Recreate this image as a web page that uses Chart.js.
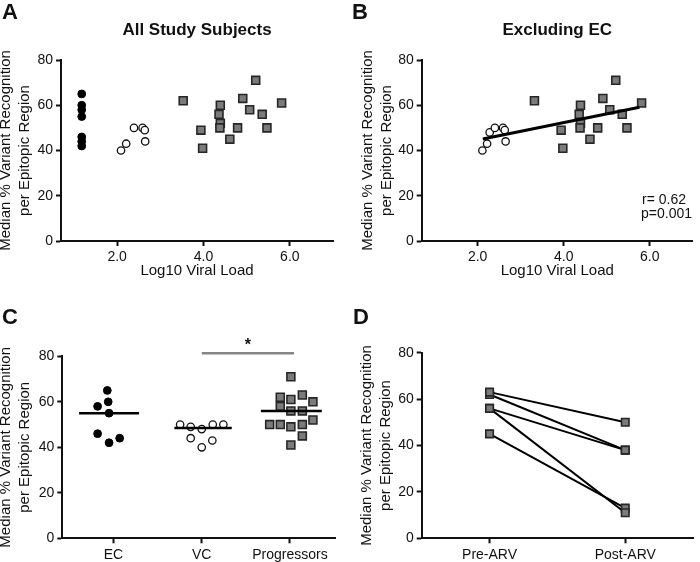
<!DOCTYPE html>
<html><head><meta charset="utf-8">
<script src="https://cdn.jsdelivr.net/npm/chart.js@4/dist/chart.umd.min.js"></script>
<style>
body{margin:0;background:#fff;width:700px;height:562px;position:relative;overflow:hidden;font-family:"Liberation Sans",Arial,sans-serif}
.q{position:absolute}
.lbl{position:absolute;font-weight:bold;font-size:22px;line-height:22px;color:#111}
</style></head><body>
<div class="q" style="left:0;top:0"><canvas id="cA" width="350" height="281"></canvas></div>
<div class="q" style="left:350px;top:0"><canvas id="cB" width="350" height="281"></canvas></div>
<div class="q" style="left:0;top:280px"><canvas id="cC" width="350" height="282"></canvas></div>
<div class="q" style="left:350px;top:280px"><canvas id="cD" width="350" height="282"></canvas></div>
<div class="lbl" style="left:2px;top:1px">A</div>
<div class="lbl" style="left:352px;top:1px">B</div>
<div class="lbl" style="left:2px;top:306px">C</div>
<div class="lbl" style="left:353px;top:306px">D</div>
<script>
// ---------- data ----------
// Panel A (x = log10 viral load, y = median % variant recognition)
const ecXA = [1.18, 1.18, 1.18, 1.18, 1.18, 1.18, 1.18];
const ecYA = [65, 60, 58, 55, 46, 44, 42];
const vcXA = [2.09, 2.21, 2.39, 2.59, 2.64, 2.65];
const vcYA = [40, 43, 50, 50, 49, 44];
const progX = [3.53, 3.94, 3.98, 4.39, 4.36, 4.39, 4.38, 4.61, 4.79, 4.91, 5.07, 5.21, 5.36, 5.47, 5.81];
const progY = [62, 49, 41, 60, 56, 52, 50, 45, 50, 63, 58, 71, 56, 50, 61];
// Panel B
const vcXB = [2.11, 2.22, 2.28, 2.40, 2.59, 2.63, 2.65];
const vcYB = [40, 43, 48, 50, 50, 49, 44];
const progXB = [3.32, 3.94, 3.98, 4.39, 4.36, 4.39, 4.38, 4.61, 4.79, 4.91, 5.07, 5.21, 5.36, 5.47, 5.81];
const regX = [2.12, 5.76];
const regY = [45.1, 59.1];
const statText = ['r= 0.62', 'p=0.001'];
const xTicksVL = [2, 4, 6];
const yTicks = [0, 20, 40, 60, 80];
// Panel C (group scatter)
const groups = ['EC', 'VC', 'Progressors'];
const ecXC = [0.93, 0.94, 0.82, 0.95, 0.82, 1.07, 0.95];
const ecYC = [65, 60, 58, 55, 46, 44, 42];
const vcXC = [1.755, 1.875, 2.0, 2.125, 2.245, 1.875, 2.0, 2.12];
const vcYC = [50, 49, 48, 50, 50, 44, 40, 43];
const progXC = [3.01, 2.89, 3.01, 3.14, 2.89, 3.01, 3.14, 3.26, 2.77, 2.89, 3.01, 3.14, 3.26, 3.14, 3.01];
const progYC = [71, 62, 61, 63, 58, 56, 56, 60, 50, 50, 49, 50, 52, 45, 41];
const medians = [55, 48.5, 56];
const medStart = [0.61, 1.69, 2.67];
const medEnd = [1.29, 2.34, 3.36];
const sigX = [2.0, 3.045];
const sigY = 81.3;
const sigMark = '*';
// Panel D (paired pre/post)
const timepoints = ['Pre-ARV', 'Post-ARV'];
const preARV = [63, 62, 56, 56, 45];
const postARV = [50, 38, 38, 11, 13];

// ---------- styling ----------
const FF = "'Liberation Sans', Arial, sans-serif";
Chart.defaults.font.family = FF;
Chart.defaults.color = '#111';
Chart.defaults.animation = false;
Chart.defaults.events = [];
Chart.defaults.plugins.legend.display = false;
Chart.defaults.plugins.tooltip.enabled = false;

const SQ_FILL = '#7b7b7b', SQ_BORDER = '#262626';
const zip = (xs, ys) => xs.map((x, i) => ({x, y: ys[i]}));

function yAxis(w, padTop) {
  return {
    type: 'linear', min: 0, max: 80,
    afterFit: s => { s.width = w; },
    afterBuildTicks: s => { s.ticks = yTicks.map(v => ({value: v})); },
    ticks: {padding: 3, color: '#111', font: {size: 14}},
    grid: {drawOnChartArea: false, drawTicks: true, tickLength: 5, tickWidth: 2, tickColor: '#111'},
    border: {display: true, width: 2, color: '#111'},
    title: {display: true, text: ['Median % Variant Recognition', 'per Epitopic Region'],
      font: {size: 15, lineHeight: 1.22}, padding: {top: padTop, bottom: 0}, color: '#111'}
  };
}
function xAxisVL(h) {
  return {
    type: 'linear', min: 0.7, max: 7.0,
    afterFit: s => { s.height = h; },
    afterBuildTicks: s => { s.ticks = xTicksVL.map(v => ({value: v})); },
    ticks: {padding: 3, color: '#111', font: {size: 14}, maxRotation: 0, callback: v => Number(v).toFixed(1)},
    grid: {drawOnChartArea: false, drawTicks: true, tickLength: 5, tickWidth: 2, tickColor: '#111'},
    border: {display: true, width: 2, color: '#111'},
    title: {display: true, text: 'Log10 Viral Load', font: {size: 15}, padding: {top: 0, bottom: 1}, color: '#111'}
  };
}
function titleOpt(t) {
  return {display: true, text: t, fullSize: false, font: {size: 17, weight: 'bold', lineHeight: 1.2},
    padding: {top: 19.8, bottom: 19.8}, color: '#111'};
}
const ecStyle = {pointStyle: 'circle', pointRadius: 3.9, pointBackgroundColor: '#000', pointBorderColor: '#000', pointBorderWidth: 1};
const vcStyle = {pointStyle: 'circle', pointRadius: 3.7, pointBackgroundColor: '#fff', pointBorderColor: '#111', pointBorderWidth: 1.3};
const sqStyle = {pointStyle: 'rect', pointRadius: 5.6, pointBackgroundColor: SQ_FILL, pointBorderColor: SQ_BORDER, pointBorderWidth: 1.6};

// ---------- Panel A ----------
new Chart(document.getElementById('cA'), {
  type: 'scatter',
  data: {datasets: [
    Object.assign({label: 'EC', data: zip(ecXA, ecYA)}, ecStyle),
    Object.assign({label: 'VC', data: zip(vcXA, vcYA)}, vcStyle),
    Object.assign({label: 'Progressors', data: zip(progX, progY)}, sqStyle)
  ]},
  options: {
    responsive: false, devicePixelRatio: 1,
    layout: {padding: {left: 0, top: 0, right: 17, bottom: 0}},
    plugins: {title: titleOpt('All Study Subjects')},
    scales: {x: xAxisVL(40), y: yAxis(61, -3)}
  }
});

// ---------- Panel B ----------
const statPlugin = {
  id: 'stat',
  afterDraw(chart) {
    const ctx = chart.ctx;
    ctx.save();
    ctx.fillStyle = '#111';
    ctx.font = '14px ' + FF;
    ctx.textAlign = 'left';
    ctx.textBaseline = 'middle';
    ctx.fillText(statText[0], 292, 200);
    ctx.fillText(statText[1], 291, 214);
    ctx.restore();
  }
};
new Chart(document.getElementById('cB'), {
  type: 'scatter',
  data: {datasets: [
    {label: 'fit', type: 'line', data: zip(regX, regY), showLine: true, borderColor: '#000', borderWidth: 3,
      pointRadius: 0, fill: false},
    Object.assign({label: 'VC', data: zip(vcXB, vcYB)}, vcStyle),
    Object.assign({label: 'Progressors', data: zip(progXB, progY)}, sqStyle)
  ]},
  options: {
    responsive: false, devicePixelRatio: 1,
    layout: {padding: {left: 0, top: 0, right: 7, bottom: 0}},
    plugins: {title: titleOpt('Excluding EC')},
    scales: {x: xAxisVL(40), y: yAxis(71.7, 9)}
  },
  plugins: [statPlugin]
});

// ---------- Panel C ----------
const starPlugin = {
  id: 'star',
  afterDraw(chart) {
    const {ctx, scales: {x, y}} = chart;
    ctx.save();
    ctx.fillStyle = '#111';
    ctx.font = 'bold 16px ' + FF;
    ctx.textAlign = 'center';
    ctx.textBaseline = 'middle';
    ctx.fillText(sigMark, x.getPixelForValue((sigX[0] + sigX[1]) / 2), y.getPixelForValue(sigY) - 8);
    ctx.restore();
  }
};
const medianSets = medians.map((m, i) => ({
  label: 'median ' + groups[i], type: 'line',
  data: [{x: medStart[i], y: m}, {x: medEnd[i], y: m}],
  showLine: true, borderColor: '#000', borderWidth: 2.5, pointRadius: 0, fill: false
}));
new Chart(document.getElementById('cC'), {
  type: 'scatter',
  data: {datasets: [
    ...medianSets,
    {label: 'sig', type: 'line', data: sigX.map(x => ({x, y: sigY})), showLine: true, borderColor: '#858585',
      borderWidth: 2.5, pointRadius: 0, fill: false, clip: false},
    Object.assign({label: 'EC', data: zip(ecXC, ecYC)}, ecStyle),
    Object.assign({label: 'VC', data: zip(vcXC, vcYC)}, vcStyle),
    Object.assign({label: 'Progressors', data: zip(progXC, progYC)}, sqStyle)
  ]},
  options: {
    responsive: false, devicePixelRatio: 1,
    layout: {padding: {left: 0, top: 76.3, right: 15, bottom: 0}},
    scales: {
      x: {
        type: 'linear', min: 0.42, max: 3.51,
        afterFit: s => { s.height = 23.7; },
        afterBuildTicks: s => { s.ticks = groups.map((g, i) => ({value: i + 1})); },
        ticks: {padding: 3, color: '#111', font: {size: 14}, maxRotation: 0, callback: v => groups[Math.round(v) - 1]},
        grid: {drawOnChartArea: false, drawTicks: true, tickLength: 5, tickWidth: 2, tickColor: '#111'},
        border: {display: true, width: 2, color: '#111'}
      },
      y: yAxis(62.3, -3)
    }
  },
  plugins: [starPlugin]
});

// ---------- Panel D ----------
new Chart(document.getElementById('cD'), {
  type: 'line',
  data: {
    labels: timepoints,
    datasets: preARV.map((p, i) => ({
      label: 'subject ' + (i + 1), data: [p, postARV[i]],
      borderColor: '#000', borderWidth: 2, fill: false, tension: 0,
      pointStyle: 'rect', pointRadius: 5.3, pointBackgroundColor: SQ_FILL, pointBorderColor: SQ_BORDER, pointBorderWidth: 1.6
    }))
  },
  options: {
    responsive: false, devicePixelRatio: 1,
    layout: {padding: {left: 0, top: 72.7, right: 1, bottom: 0}},
    scales: {
      x: {
        type: 'category', offset: true,
        afterFit: s => { s.height = 23.7; },
        ticks: {padding: 3, color: '#111', font: {size: 14}, maxRotation: 0},
        grid: {offset: false, drawOnChartArea: false, drawTicks: true, tickLength: 5, tickWidth: 2, tickColor: '#111'},
        border: {display: true, width: 2, color: '#111'}
      },
      y: yAxis(71.7, 8)
    }
  }
});
</script>
</body></html>
